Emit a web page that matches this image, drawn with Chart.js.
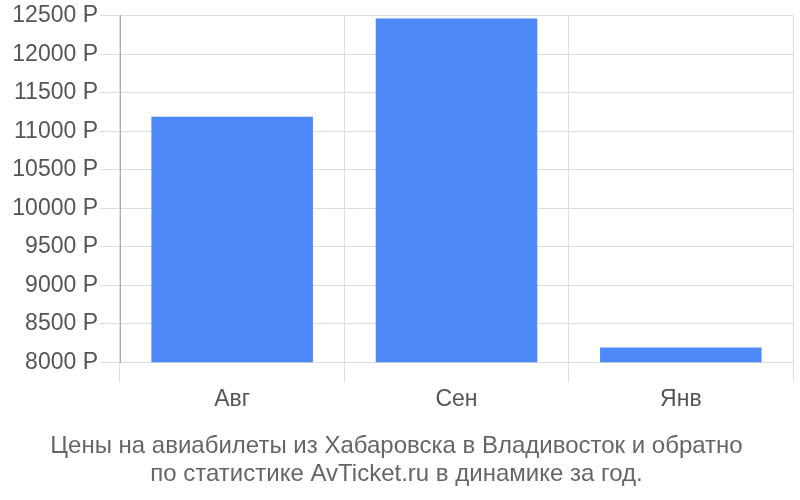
<!DOCTYPE html>
<html>
<head>
<meta charset="utf-8">
<script src="https://cdn.jsdelivr.net/npm/chart.js@4"></script>
<style>
  body { margin: 0; background: #fff; }
</style>
</head>
<body>
<canvas id="myChart" width="800" height="500"></canvas>
<script>
var months = ['Авг', 'Сен', 'Янв'];
var prices = [11190, 12465, 8190];
var titleLines = [
  'Цены на авиабилеты из Хабаровска в Владивосток и обратно',
  'по статистике AvTicket.ru в динамике за год.'
];

var ctx = document.getElementById('myChart').getContext('2d');
var chart = new Chart(ctx, {
  type: 'bar',
  data: {
    labels: months,
    datasets: [
      {
        data: prices,
        backgroundColor: '#4d89f9',
        categoryPercentage: 0.72,
        barPercentage: 1.0,
      },
    ],
  },
  options: {
    responsive: false,
    animation: false,
    layout: { padding: { top: 4, right: 7, left: 0, bottom: 12 } },
    plugins: {
      legend: { display: false },
      tooltip: { enabled: false },
      title: {
        display: true,
        position: 'bottom',
        text: titleLines,
        color: '#666',
        font: { family: 'Liberation Sans', size: 24, weight: 'normal', lineHeight: 1.15 },
        padding: { top: 15, bottom: 0 },
      },
    },
    scales: {
      x: {
        grid: { color: '#ddd', tickLength: 20, offset: true },
        border: { color: '#ddd' },
        ticks: {
          color: '#555',
          padding: 4,
          font: { family: 'Liberation Sans', size: 23 },
        },
      },
      y: {
        min: 8000,
        max: 12500,
        grid: { color: '#ddd', tickLength: 20 },
        border: { color: '#aaa' },
        ticks: {
          stepSize: 500,
          color: '#555',
          padding: 2,
          font: { family: 'Liberation Sans', size: 23 },
          callback: function (v) { return v + ' Р'; },
        },
        afterFit: function (scale) { scale.width = 120; },
      },
    },
  },
});
</script>
</body>
</html>
